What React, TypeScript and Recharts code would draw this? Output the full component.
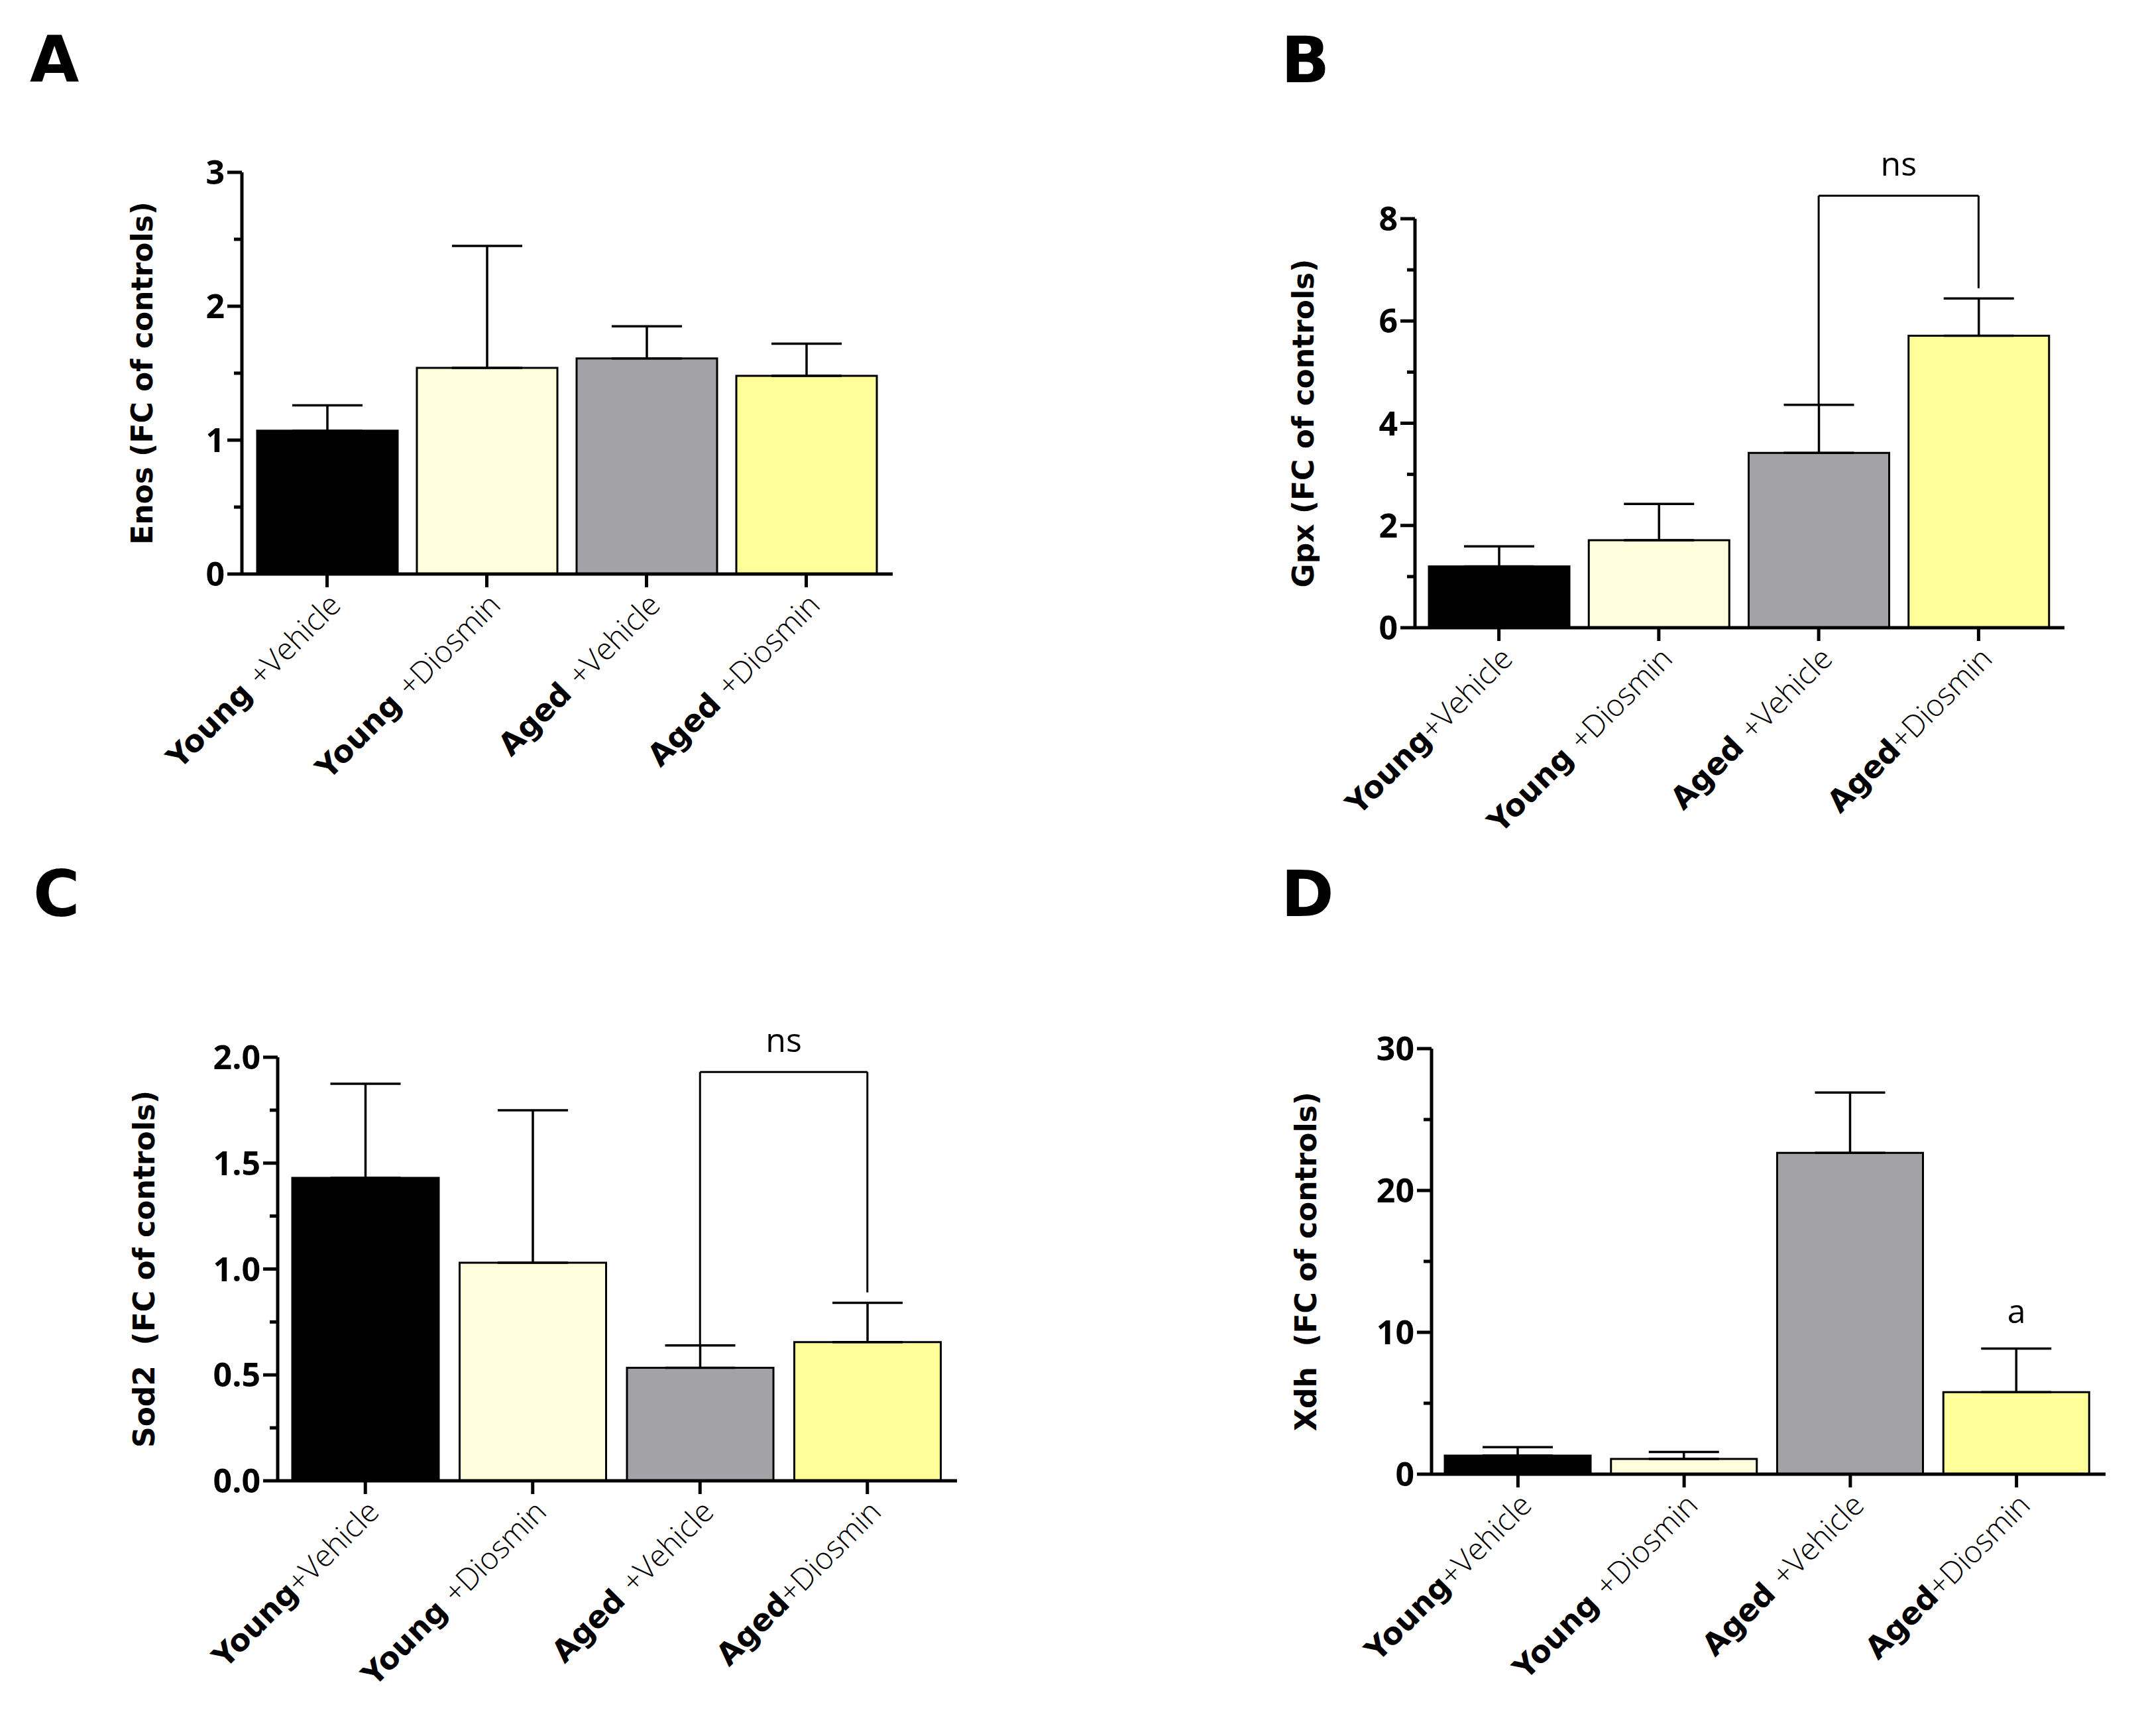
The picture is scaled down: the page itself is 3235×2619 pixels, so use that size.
import React from "react";
import {
  BarChart,
  Bar,
  Cell,
  XAxis,
  YAxis,
  ErrorBar,
  ReferenceLine,
  ReferenceDot,
} from "recharts";

// categories (spacing differs a little between panels, as in the figure)
const groupsA = ["Young +Vehicle", "Young +Diosmin", "Aged +Vehicle", "Aged +Diosmin"];
const groupsBCD = ["Young+Vehicle", "Young +Diosmin", "Aged +Vehicle", "Aged+Diosmin"];
const barColors = ["#000000", "#FFFEDD", "#A3A2A7", "#FFFF99"];

// A - Enos
const enosMean = [1.07, 1.54, 1.61, 1.48];
const enosErr = [0.19, 0.91, 0.24, 0.24];
const enosTicks = [0, 1, 2, 3];
const enosMinor = [0.5, 1.5, 2.5];

// B - Gpx
const gpxMean = [1.2, 1.71, 3.42, 5.71];
const gpxErr = [0.39, 0.71, 0.94, 0.73];
const gpxTicks = [0, 2, 4, 6, 8];
const gpxMinor = [1, 3, 5, 7];
const gpxBracket = { top: 8.45, left: 4.36, right: 6.64, text: "ns" };

// C - Sod2
const sod2Mean = [1.43, 1.03, 0.534, 0.655];
const sod2Err = [0.445, 0.72, 0.105, 0.185];
const sod2Ticks = [0, 0.5, 1, 1.5, 2];
const sod2Minor = [0.25, 0.75, 1.25, 1.75];
const sod2Bracket = { top: 1.93, left: 0.64, right: 0.89, text: "ns" };

// D - Xdh
const xdhMean = [1.31, 1.08, 22.65, 5.78];
const xdhErr = [0.59, 0.49, 4.25, 3.07];
const xdhTicks = [0, 10, 20, 30];
const xdhMinor = [5, 15, 25];
const xdhMark = { y: 11.5, text: "a" };

const BOLD = "'DejaVu Sans', Verdana, sans-serif";
const OPEN = "'Open Sans', sans-serif";

function CatTick(props: any) {
  const { x, y, payload } = props;
  const s: string = String(payload.value);
  const i = s.indexOf("+");
  const head = s.slice(0, i);
  const tail = s.slice(i);
  return (
    <g transform={`translate(${x},${y}) rotate(-45)`}>
      <text x={0} y={0} dy="0.72em" textAnchor="end" fontSize={46} fill="#000" style={{ whiteSpace: "pre" }}>
        <tspan fontFamily={BOLD} fontWeight="bold">{head}</tspan>
        <tspan fontFamily={OPEN} fontWeight={300}>{tail}</tspan>
      </text>
    </g>
  );
}

function makeYTick(major: number[], decimals: number) {
  return (props: any) => {
    const { x, y, payload } = props;
    const v = Number(payload.value);
    const isMajor = major.some((m) => Math.abs(m - v) < 1e-9);
    const ax = x + 26;
    return (
      <g>
        <line x1={ax - (isMajor ? 22 : 12)} x2={ax} y1={y} y2={y} stroke="#000" strokeWidth={5} />
        {isMajor && (
          <text x={x} y={y} dy="0.36em" textAnchor="end" fontFamily={OPEN} fontWeight="bold" fontSize={50} fill="#000">
            {v.toFixed(decimals)}
          </text>
        )}
      </g>
    );
  };
}

function yTitle(text: string, dist: number) {
  return (props: any) => {
    const vb = props.viewBox || {};
    const cx = vb.x + vb.width - dist;
    const cy = vb.y + vb.height / 2;
    return (
      <text
        x={cx}
        y={cy}
        transform={`rotate(-90 ${cx} ${cy})`}
        textAnchor="middle"
        dominantBaseline="central"
        fontFamily={BOLD}
        fontWeight="bold"
        fontSize={44}
        fill="#000"
        style={{ whiteSpace: "pre" }}
      >
        {text}
      </text>
    );
  };
}

type PanelProps = {
  left: number;
  top: number;
  width: number;
  height: number;
  margin: { top: number; right: number; bottom: number };
  axisWidth: number;
  pad: { left: number; right: number };
  barSize: number;
  groups: string[];
  mean: number[];
  err: number[];
  ticks: number[];
  minor: number[];
  decimals: number;
  title: string;
  titleDist: number;
  bracket?: { top: number; left: number; right: number; text: string };
  mark?: { y: number; text: string };
};

function Panel(p: PanelProps) {
  const data = p.groups.map((g, i) => ({ name: g, value: p.mean[i], err: [0, p.err[i]] }));
  const max = p.ticks[p.ticks.length - 1];
  const allTicks = [...p.ticks, ...p.minor].sort((a, b) => a - b);
  const line = { stroke: "#000", strokeWidth: 3 };
  return (
    <div style={{ position: "absolute", left: p.left, top: p.top }}>
      <BarChart
        width={p.width}
        height={p.height}
        data={data}
        margin={{ top: p.margin.top, right: p.margin.right, bottom: p.margin.bottom, left: 0 }}
      >
        <XAxis
          dataKey="name"
          type="category"
          padding={p.pad}
          height={360}
          interval={0}
          axisLine={{ stroke: "#000", strokeWidth: 5 }}
          tickLine={{ stroke: "#000", strokeWidth: 5 }}
          tickSize={20}
          tickMargin={6}
          tick={<CatTick />}
        />
        <YAxis
          type="number"
          domain={[0, max]}
          ticks={allTicks}
          interval={0}
          width={p.axisWidth}
          axisLine={{ stroke: "#000", strokeWidth: 5 }}
          tickLine={false}
          tickSize={20}
          tickMargin={6}
          tick={makeYTick(p.ticks, p.decimals)}
          label={yTitle(p.title, p.titleDist)}
        />
        <Bar dataKey="value" barSize={p.barSize} stroke="#000" strokeWidth={3} isAnimationActive={false}>
          {data.map((d, i) => (
            <Cell key={d.name} fill={barColors[i]} />
          ))}
          <ErrorBar dataKey="err" direction="y" width={53} stroke="#000" strokeWidth={3.5} />
        </Bar>
        {p.bracket && (
          <ReferenceLine
            segment={[
              { x: p.groups[2], y: p.bracket.left },
              { x: p.groups[2], y: p.bracket.top },
            ]}
            ifOverflow="visible"
            {...line}
          />
        )}
        {p.bracket && (
          <ReferenceLine
            segment={[
              { x: p.groups[3], y: p.bracket.right },
              { x: p.groups[3], y: p.bracket.top },
            ]}
            ifOverflow="visible"
            {...line}
          />
        )}
        {p.bracket && (
          <ReferenceLine
            segment={[
              { x: p.groups[2], y: p.bracket.top },
              { x: p.groups[3], y: p.bracket.top },
            ]}
            ifOverflow="visible"
            {...line}
            label={{
              value: p.bracket.text,
              position: "top",
              offset: 30,
              fontFamily: OPEN,
              fontSize: 50,
              fill: "#000",
            }}
          />
        )}
        {p.mark && (
          <ReferenceDot
            x={p.groups[3]}
            y={p.mark.y}
            r={0}
            fill="none"
            stroke="none"
            ifOverflow="visible"
            label={{ value: p.mark.text, position: "center", fontFamily: OPEN, fontSize: 50, fill: "#000" }}
          />
        )}
      </BarChart>
    </div>
  );
}

const letterStyle: React.CSSProperties = {
  position: "absolute",
  fontFamily: BOLD,
  fontWeight: "bold",
  fontSize: 96,
  lineHeight: "96px",
  color: "#000",
};

export default function App() {
  return (
    <div
      style={{
        position: "absolute",
        left: 0,
        top: 0,
        width: 3235,
        height: 2619,
        background: "#fff",
        overflow: "hidden",
      }}
    >
      <div style={{ ...letterStyle, left: 45, top: 42 }}>A</div>
      <div style={{ ...letterStyle, left: 1933, top: 43 }}>B</div>
      <div style={{ ...letterStyle, left: 50, top: 1301 }}>C</div>
      <div style={{ ...letterStyle, left: 1933, top: 1301 }}>D</div>

      <Panel
        left={0}
        top={150}
        width={1420}
        height={1150}
        margin={{ top: 110, right: 73, bottom: 74 }}
        axisWidth={365}
        pad={{ left: 8, right: 10 }}
        barSize={212}
        groups={groupsA}
        mean={enosMean}
        err={enosErr}
        ticks={enosTicks}
        minor={enosMinor}
        decimals={0}
        title="Enos (FC of controls)"
        titleDist={151}
      />
      <Panel
        left={1700}
        top={150}
        width={1500}
        height={1200}
        margin={{ top: 180, right: 85, bottom: 43 }}
        axisWidth={435}
        pad={{ left: 6, right: 9 }}
        barSize={212}
        groups={groupsBCD}
        mean={gpxMean}
        err={gpxErr}
        ticks={gpxTicks}
        minor={gpxMinor}
        decimals={0}
        title="Gpx (FC of controls)"
        titleDist={169}
        bracket={gpxBracket}
      />
      <Panel
        left={0}
        top={1450}
        width={1480}
        height={1150}
        margin={{ top: 145, right: 36, bottom: 6 }}
        axisWidth={419}
        pad={{ left: 6, right: 9 }}
        barSize={221}
        groups={groupsBCD}
        mean={sod2Mean}
        err={sod2Err}
        ticks={sod2Ticks}
        minor={sod2Minor}
        decimals={1}
        title={"Sod2  (FC of controls)"}
        titleDist={202}
        bracket={sod2Bracket}
      />
      <Panel
        left={1700}
        top={1450}
        width={1520}
        height={1150}
        margin={{ top: 132, right: 43, bottom: 16 }}
        axisWidth={460}
        pad={{ left: 5, right: 9 }}
        barSize={220}
        groups={groupsBCD}
        mean={xdhMean}
        err={xdhErr}
        ticks={xdhTicks}
        minor={xdhMinor}
        decimals={0}
        title={"Xdh  (FC of controls)"}
        titleDist={190}
        mark={xdhMark}
      />
    </div>
  );
}
